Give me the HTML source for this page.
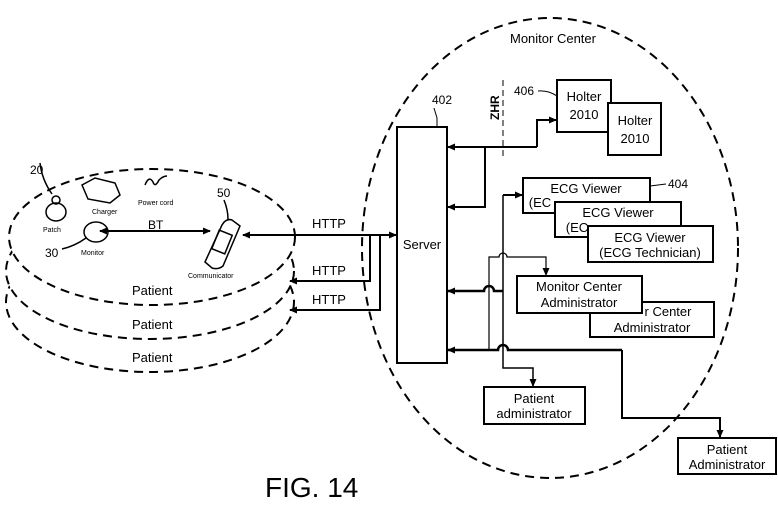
<!DOCTYPE html>
<html><head><meta charset="utf-8"><style>
body{margin:0;background:#fff}
svg{display:block;font-family:"Liberation Sans",sans-serif}
text{fill:#000}
</style></head><body>
<svg width="778" height="514" viewBox="0 0 778 514" xmlns="http://www.w3.org/2000/svg">
<defs>
<marker id="a" markerWidth="8" markerHeight="8" refX="7" refY="4" orient="auto" markerUnits="userSpaceOnUse"><path d="M0,0.5 L8,4 L0,7.5z" fill="#000"/></marker>
<marker id="b" markerWidth="8" markerHeight="8" refX="1" refY="4" orient="auto" markerUnits="userSpaceOnUse"><path d="M8,0.5 L0,4 L8,7.5z" fill="#000"/></marker>
</defs>
<g stroke="#000" stroke-width="2" stroke-dasharray="9,6">
<ellipse cx="550" cy="248" rx="188" ry="230" fill="none"/>
<ellipse cx="150" cy="302" rx="144" ry="70" fill="#fff"/>
<ellipse cx="150" cy="271" rx="144" ry="68" fill="#fff"/>
<ellipse cx="152" cy="237" rx="143" ry="68" fill="#fff"/>
</g>
<line x1="503" y1="80" x2="503" y2="160" stroke="#000" stroke-width="1" stroke-dasharray="6,4"/>
<text x="0" y="0" font-size="12" font-weight="bold" transform="translate(499,120) rotate(-90)">ZHR</text>
<text x="510" y="43" font-size="13">Monitor Center</text>
<g fill="#fff" stroke="#000" stroke-width="2">
<rect x="397" y="127" width="50" height="236"/>
<rect x="557" y="80" width="54" height="52"/>
<rect x="608" y="103" width="53" height="52"/>
<rect x="523" y="178" width="127" height="35"/>
<rect x="555" y="202" width="126" height="35"/>
<rect x="588" y="226" width="125" height="36"/>
<rect x="590" y="302" width="124" height="35"/>
<rect x="517" y="276" width="125" height="37"/>
<rect x="484" y="387" width="101" height="37"/>
<rect x="678" y="438" width="98" height="36"/>
</g>
<g font-size="13" text-anchor="middle">
<text x="422" y="249">Server</text>
<text x="584" y="101">Holter</text><text x="584" y="119">2010</text>
<text x="635" y="125">Holter</text><text x="635" y="143">2010</text>
<text x="586" y="193">ECG Viewer</text><text x="540" y="207">(EC</text>
<text x="618" y="217">ECG Viewer</text><text x="577" y="232">(EC</text>
<text x="650" y="242">ECG Viewer</text><text x="650" y="257">(ECG Technician)</text>
<text x="668" y="316">r Center</text><text x="652" y="332">Administrator</text>
<text x="579" y="291">Monitor Center</text><text x="579" y="307">Administrator</text>
<text x="534" y="403">Patient</text><text x="534" y="418">administrator</text>
<text x="727" y="454">Patient</text><text x="727" y="469">Administrator</text>
</g>
<text x="432" y="104" font-size="12">402</text>
<path d="M434,108 L437,118 L437,127" fill="none" stroke="#000"/>
<text x="514" y="95" font-size="12">406</text>
<path d="M538,91 Q548,90 557,96" fill="none" stroke="#000"/>
<text x="668" y="188" font-size="12">404</text>
<path d="M650,186 L666,184" fill="none" stroke="#000"/>
<g fill="none" stroke="#000" stroke-width="2">
<line x1="243" y1="235" x2="396" y2="235" marker-start="url(#b)" marker-end="url(#a)"/>
<path d="M370,235 V281 H290" marker-end="url(#a)"/>
<path d="M380,235 V310 H290" marker-end="url(#a)"/>
<path d="M537,147 H448" marker-end="url(#a)"/>
<path d="M537,147 V120 H556" marker-end="url(#a)"/>
<path d="M485,147 V207 H448" marker-end="url(#a)"/>
<path d="M503,195 H522" marker-end="url(#a)"/>
<path d="M503,195 V368 H533 V386" stroke-width="1.5" marker-end="url(#a)"/>
<path d="M489,350 V257 H499 a4,4 0 0,1 8,0 H546 V275" stroke-width="1.2" marker-end="url(#a)"/>
<path d="M503,291 H494 a5,5 0 0,0 -10,0 H448" stroke-width="2.5" marker-end="url(#a)"/>
<path d="M622,350 H508 a5,5 0 0,0 -10,0 H448" stroke-width="2.5" marker-end="url(#a)"/>
<path d="M622,350 V418 H720 V437" marker-end="url(#a)"/>
<line x1="100" y1="231" x2="210" y2="231" marker-start="url(#b)" marker-end="url(#a)"/>
</g>
<g font-size="13">
<text x="312" y="228">HTTP</text>
<text x="312" y="275">HTTP</text>
<text x="312" y="304">HTTP</text>
<text x="132" y="295">Patient</text>
<text x="132" y="329">Patient</text>
<text x="132" y="362">Patient</text>
<text x="148" y="229" font-size="12">BT</text>
<text x="30" y="174" font-size="12">20</text>
<text x="45" y="257" font-size="12">30</text>
<text x="217" y="197" font-size="12">50</text>
</g>
<g font-size="7">
<text x="43" y="232">Patch</text>
<text x="92" y="214">Charger</text>
<text x="138" y="205">Power cord</text>
<text x="81" y="255">Monitor</text>
<text x="188" y="278">Communicator</text>
</g>
<g fill="none" stroke="#000" stroke-width="1.5">
<ellipse cx="56" cy="212" rx="10" ry="9"/>
<circle cx="56" cy="200" r="4"/>
<path d="M40,163 Q42,180 52,194"/>
<ellipse cx="96" cy="232" rx="12" ry="10"/>
<path d="M62,249 Q75,246 86,238"/>
<path d="M82,185 L95,178 L115,183 L120,195 L110,203 L88,199 Z"/>
<path d="M145,185 q4,-10 8,-3 q2,6 6,-2 q4,-4 8,-4"/>
<path d="M205,262 L222,225 Q226,218 232,220 L240,226 L223,266 Q218,270 212,268 Z"/>
<rect x="215" y="232" width="14" height="20" transform="rotate(22 222 242)"/>
<path d="M224,200 Q228,210 228,219"/>
</g>
<text x="265" y="497" font-size="28">FIG. 14</text>
</svg>
</body></html>
